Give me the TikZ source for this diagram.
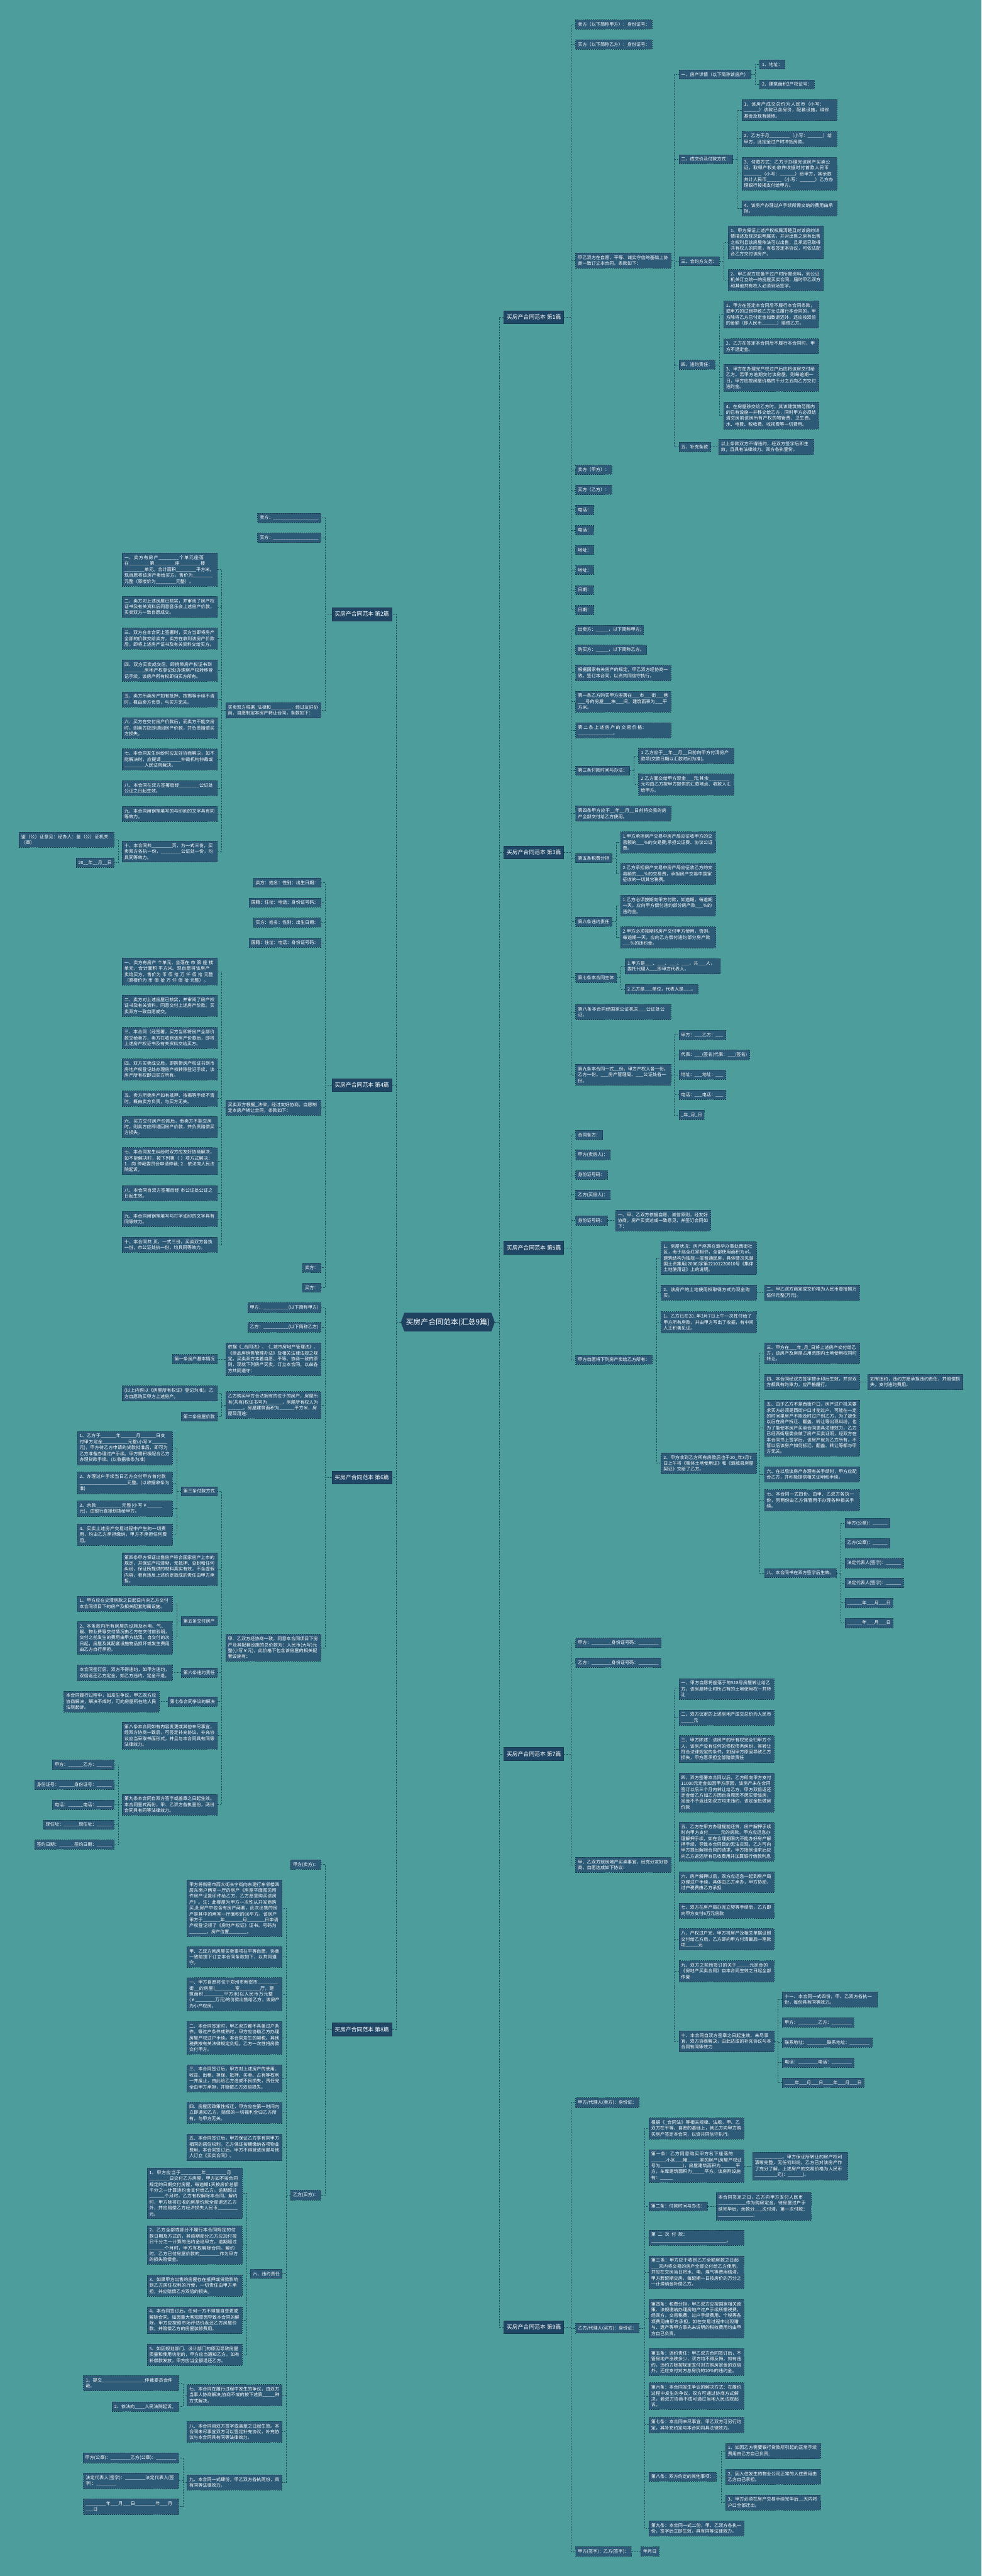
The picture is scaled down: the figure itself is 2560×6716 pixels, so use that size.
\documentclass[tikz,border=0pt]{standalone}
\usepackage{fontspec}
\setmainfont{Noto Sans CJK SC}
\usetikzlibrary{calc,shapes.symbols}
\XeTeXlinebreaklocale "zh"
\XeTeXlinebreakskip=0pt plus 1pt
\definecolor{bgteal}{RGB}{76,157,155}
\definecolor{leafblue}{RGB}{45,90,119}
\definecolor{mainblue}{RGB}{31,70,100}
\definecolor{rootblue}{RGB}{30,66,96}
\definecolor{edgeblue}{RGB}{26,56,78}
\definecolor{linkblue}{RGB}{33,72,92}
\newcommand{\leaffont}{\fontsize{11.7}{15.4}\selectfont}
\newcommand{\branchfont}{\fontsize{14.5}{18}\selectfont}
\newcommand{\rootfont}{\fontsize{19.5}{24}\selectfont}
% parent -> stub -> trunk -> child, trunk sits 11 units before the children
\newcommand{\rkids}[2]{\foreach \kid in {#2}{\draw[link] (#1.east) -- ($(#1.east -| \kid.west)+(-11,0)$) |- (\kid.west);}}
\newcommand{\lkids}[2]{\foreach \kid in {#2}{\draw[link] (#1.west) -- ($(#1.west -| \kid.east)+(11,0)$) |- (\kid.east);}}
\tikzset{
  link/.style={draw=linkblue, line width=1.1pt, dash pattern=on 4pt off 3pt},
  leaf/.style={draw=edgeblue, line width=0.9pt, dash pattern=on 3pt off 2pt,
               fill=leafblue, text=white, font=\leaffont,
               inner xsep=6pt, inner ysep=6.5pt, align=left},
  wide/.style={leaf, text width=236pt},
  branch/.style={draw=edgeblue, line width=0.9pt, fill=mainblue, text=white,
                 font=\branchfont, inner xsep=7pt, minimum height=34pt},
  rootnode/.style={signal, signal to=west and east, signal pointer angle=140,
                   fill=rootblue, text=white, font=\rootfont,
                   inner xsep=4pt, minimum height=49pt},
  rt/.style={anchor=west},
  lt/.style={anchor=east},
}
\begin{document}
\catcode`\_=12
\begin{tikzpicture}[x=1pt,y=-1pt]
  \fill[bgteal] (0,0) rectangle (2560,6716);
  \path[use as bounding box] (0,0) rectangle (2560,6716);

  % centre and the nine articles
  \node[rootnode] (root) at (1168,3447) {买房产合同范本(汇总9篇)};
  \node[branch, rt] (a1) at (1314,827)  {买房产合同范本 第1篇};
  \node[branch, rt] (a3) at (1314,2222) {买房产合同范本 第3篇};
  \node[branch, rt] (a5) at (1314,3253) {买房产合同范本 第5篇};
  \node[branch, rt] (a7) at (1314,4573) {买房产合同范本 第7篇};
  \node[branch, rt] (a9) at (1314,6067) {买房产合同范本 第9篇};
  \node[branch, lt] (a2) at (1022,1601) {买房产合同范本 第2篇};
  \node[branch, lt] (a4) at (1022,2829) {买房产合同范本 第4篇};
  \node[branch, lt] (a6) at (1022,3852) {买房产合同范本 第6篇};
  \node[branch, lt] (a8) at (1022,5291) {买房产合同范本 第8篇};
  \rkids{root}{a1,a3,a5,a7,a9}
  \lkids{root}{a2,a4,a6,a8}

  % article 1
  \node[leaf, rt] (s1a) at (1501,64)  {卖方（以下简称甲方）：身份证号：};
  \node[leaf, rt] (s1b) at (1501,116) {买方（以下简称乙方）：身份证号：};
  \node[wide, rt] (s1c) at (1501,679) {甲乙双方在自愿、平等、诚实守信的基础上协商一致订立本合同，条款如下：};
  \node[leaf, rt] (s1d) at (1501,1225) {卖方（甲方）：};
  \node[leaf, rt] (s1e) at (1501,1277) {买方（乙方）：};
  \node[leaf, rt] (s1f) at (1501,1329) {电话：};
  \node[leaf, rt] (s1g) at (1501,1382) {电话：};
  \node[leaf, rt] (s1h) at (1501,1434) {地址：};
  \node[leaf, rt] (s1i) at (1501,1486) {地址：};
  \node[leaf, rt] (s1j) at (1501,1538) {日期：};
  \node[leaf, rt] (s1k) at (1501,1590) {日期：};
  \rkids{a1}{s1a,s1b,s1c,s1d,s1e,s1f,s1g,s1h,s1i,s1j,s1k}

  \node[leaf, rt] (t1) at (1770,194)  {一、房产详情（以下简称该房产）};
  \node[leaf, rt] (t2) at (1770,415)  {二、成交价及付款方式：};
  \node[leaf, rt] (t3) at (1770,681)  {三、合约方义务：};
  \node[leaf, rt] (t4) at (1770,951)  {四、违约责任：};
  \node[leaf, rt] (t5) at (1770,1165) {五、补充条款};
  \rkids{s1c}{t1,t2,t3,t4,t5}

  \node[leaf, rt] (t1a) at (1981,168) {1、地址：};
  \node[leaf, rt] (t1b) at (1981,220) {2、建筑面积2产权证号：};
  \rkids{t1}{t1a,t1b}
  \node[wide, rt] (t2a) at (1934,287) {1、该房产成交总价为人民币（小写：______）该款已含房价，配套设施，维修基金及现有装修。};
  \node[wide, rt] (t2b) at (1934,362) {2、乙方于月________（小写：______）给甲方，此定金过户时冲抵房款。};
  \node[wide, rt] (t2c) at (1934,453) {3、付款方式：乙方于办理完该房产买卖公证，取得产权处收件收据时付首款人民币_______（小写：______）给甲方，其余款共计人民币______（小写：______）乙方办理银行按揭支付给甲方。};
  \node[wide, rt] (t2d) at (1934,543) {4、该房产办理过户手续所需交纳的费用由承担。};
  \rkids{t2}{t2a,t2b,t2c,t2d}
  \node[wide, rt] (t3a) at (1899,632) {1、甲方保证上述产权权属清楚且对该房的详情描述及现况说明属实，并对出售之房有出售之权利且该房屋依法可以出售，且承诺已取得共有权人的同意，有权签定本协议，可依法配合乙方交付该房产。};
  \node[wide, rt] (t3b) at (1899,730) {2、甲乙双方应备齐过户时所需资料，到公证机关订立统一的房屋买卖合同，届时甲乙双方和其他共有权人必须到场签字。};
  \rkids{t3}{t3a,t3b}
  \node[wide, rt] (t4a) at (1887,820)  {1、甲方在签定本合同后不履行本合同条款，或甲方的过错导致乙方无法履行本合同的，甲方除将乙方已付定金如数退还外，还应按双倍的金额（即人民币______）赔偿乙方。};
  \node[wide, rt] (t4b) at (1887,903)  {2、乙方在签定本合同后不履行本合同时，甲方不退定金。};
  \node[wide, rt] (t4c) at (1887,985)  {3、甲方在办理完产权过户后应将该房交付给乙方。若甲方逾期交付该房屋，则每逾期一日，甲方应按房屋价格的千分之五向乙方交付违约金。};
  \node[wide, rt] (t4d) at (1887,1083) {4、在房屋移交给乙方时，其该建筑物范围内的已有设施一并移交给乙方，同时甲方必须结清交房前该房所有产权的物管费、卫生费、水、电费、税收费、收视费等一切费用。};
  \rkids{t4}{t4a,t4b,t4c,t4d}
  \node[wide, rt] (t5a) at (1874,1165) {以上条款双方不得违约，经双方签字后即生效，且具有法律效力。双方各执壹份。};
  \rkids{t5}{t5a}

  % article 3
  \node[leaf, rt] (s3a) at (1501,1642) {出卖方：_____，以下简称甲方;};
  \node[leaf, rt] (s3b) at (1501,1694) {购买方：_____，以下简称乙方。};
  \node[wide, rt] (s3c) at (1501,1754) {根据国家有关房产的规定，甲乙双方经协商一致，签订本合同，以资共同信守执行。};
  \node[wide, rt] (s3d) at (1501,1829) {第一条乙方购买甲方座落在___市___街___巷___号的房屋___栋___间，建筑面积为___平方米。};
  \node[wide, rt] (s3e) at (1501,1904) {第二条上述房产的交易价格：______________。};
  \node[leaf, rt] (s3f) at (1501,2009) {第三条付款时间与办法：};
  \node[wide, rt] (s3g) at (1501,2121) {第四条甲方应于__年__月__日前将交易的房产全部交付给乙方使用。};
  \node[leaf, rt] (s3h) at (1501,2237) {第五条税费分担};
  \node[leaf, rt] (s3i) at (1501,2403) {第六条违约责任};
  \node[leaf, rt] (s3j) at (1501,2549) {第七条本合同主体};
  \node[wide, rt] (s3k) at (1501,2638) {第八条本合同经国家公证机关___公证处公证。};
  \node[wide, rt] (s3l) at (1501,2802) {第九条本合同一式__份。甲方产权人各一份。乙方一份。___房产管理局、___公证处各一份。};
  \rkids{a3}{s3a,s3b,s3c,s3d,s3e,s3f,s3g,s3h,s3i,s3j,s3k,s3l}

  \node[wide, rt] (s3f1) at (1665,1971) {1.乙方应于__年__月__日前向甲方付清房产款项(交款日期以汇款时间为准)。};
  \node[wide, rt] (s3f2) at (1665,2045) {2.乙方面交给甲方现金___元;其余________元均由乙方按甲方提供的汇款地点、收款人汇给甲方。};
  \rkids{s3f}{s3f1,s3f2}
  \node[wide, rt] (s3h1) at (1618,2196) {1.甲方承担房产交易中房产局应征收甲方的交易额的___\%的交易费;承担公证费、协议公证费。};
  \node[wide, rt] (s3h2) at (1618,2278) {2.乙方承担房产交易中房产局应征收乙方的交易额的___\%的交易费，承担房产交易中国家征收的一切其它税费。};
  \rkids{s3h}{s3h1,s3h2}
  \node[wide, rt] (s3i1) at (1618,2361) {1.乙方必须按期向甲方付款，如逾期，每逾期一天，应向甲方偿付违约部分房产款___\%的违约金。};
  \node[wide, rt] (s3i2) at (1618,2444) {2.甲方必须按期将房产交付甲方使用，否则，每逾期一天，应向乙方偿付违约部分房产款___\%的违约金。};
  \rkids{s3i}{s3i1,s3i2}
  \node[wide, rt] (s3j1) at (1630,2519) {1.甲方是___、___、___、___，共___人，委托代理人___即甲方代表人。};
  \node[leaf, rt] (s3j2) at (1630,2579) {2.乙方是___单位，代表人是___。};
  \rkids{s3j}{s3j1,s3j2}
  \node[leaf, rt] (s3l1) at (1770,2698) {甲方：___乙方：___};
  \node[leaf, rt] (s3l2) at (1770,2750) {代表：___(签名)代表：___(签名)};
  \node[leaf, rt] (s3l3) at (1770,2802) {地址：___地址：___};
  \node[leaf, rt] (s3l4) at (1770,2854) {电话：___电话：___};
  \node[leaf, rt] (s3l5) at (1770,2907) {_年_月_日};
  \rkids{s3l}{s3l1,s3l2,s3l3,s3l4,s3l5}

  % article 5
  \node[leaf, rt] (s5a) at (1501,2959) {合同各方：};
  \node[leaf, rt] (s5b) at (1501,3011) {甲方(卖房人)：};
  \node[leaf, rt] (s5c) at (1501,3063) {身份证号码：};
  \node[leaf, rt] (s5d) at (1501,3115) {乙方(买房人)：};
  \node[leaf, rt] (s5e) at (1501,3182) {身份证号码：};
  \node[leaf, rt] (s5f) at (1501,3545) {甲方自愿将下列房产卖给乙方所有：};
  \rkids{a5}{s5a,s5b,s5c,s5d,s5e,s5f}
  \node[wide, rt] (s5e1) at (1605,3182) {一、甲、乙双方依据自愿、诚信原则，经友好协商，房产买卖达成一致意见，并签订合同如下：};
  \rkids{s5e}{s5e1}

  \node[wide, rt] (f1) at (1724,3280) {1、房屋状况：房产座落在潞华办事处西街社区，南于赵全红家相邻，全部使用面积为㎡，建筑结构为独院一层普通民房，具体情况见潞国土资集用(2006)字第22101220010号《集体土地使用证》上的说明。};
  \node[wide, rt] (f2) at (1724,3370) {2、该房产的土地使用权取得方式为现金购买。};
  \node[wide, rt] (f3) at (1724,3447) {1、乙方已在20_年3月7日上午一次性付给了甲方所有房款，并由甲方写出了收据，有中间人王积善见证。};
  \node[wide, rt] (f4) at (1724,3815) {2、甲方收到乙方所有房款后也于20_年3月7日上午将《集体土地使用证》和《潞城县房屋契证》交给了乙方。};
  \rkids{s5f}{f1,f2,f3,f4}
  \node[wide, rt] (f2a) at (1993,3370) {二、甲乙双方商定成交价格为人民币壹拾捌万伍仟元整(万元)。};
  \rkids{f2}{f2a}

  \node[wide, rt] (g1) at (1993,3528) {三、甲方在___年_月_日将上述房产交付给乙方，该房产及房屋占用范围内土地使用权同时转让。};
  \node[wide, rt] (g2) at (1993,3603) {四、本合同经双方签字摁手印后生效，并对双方都具有约束力，应严格履行。};
  \node[wide, rt] (g3) at (1993,3723) {五、由于乙方不是西街户口，房产过户机关要求买方必须是西街户口才能过户，可能在一定的时间里房产不能及时过户到乙方，为了避免以后在房产拆迁、翻盖、转让等出现纠纷，也为了能使本房产买卖合同更具法律效力，乙方已经西街居委会做了房产买卖证明，经双方在本合同书上签字后，该房产就为乙方所有，不管以后该房产如何拆迁、翻盖、转让等都与甲方无关。};
  \node[wide, rt] (g4) at (1993,3844) {六、在以后该房产办理有关手续时，甲方应配合乙方，并积极提供相关证明和手续。};
  \node[wide, rt] (g5) at (1993,3911) {七、本合同一式四份，由甲、乙双方各执一份，另两份由乙方保管用于办理各种相关手续。};
  \node[leaf, rt] (g6) at (1993,4101) {八、本合同书在双方签字后生效。};
  \rkids{f4}{g1,g2,g3,g4,g5,g6}
  \node[wide, rt] (g2a) at (2263,3603) {如有违约，违约方愿承担违约责任，并赔偿损失，支付违约费用。};
  \rkids{g2}{g2a}
  \node[leaf, rt] (g6a) at (2203,3971) {甲方(公章)：______};
  \node[leaf, rt] (g6b) at (2203,4023) {乙方(公章)：______};
  \node[leaf, rt] (g6c) at (2203,4075) {法定代表人(签字)：______};
  \node[leaf, rt] (g6d) at (2203,4127) {法定代表人(签字)：______};
  \node[leaf, rt] (g6e) at (2203,4179) {______年___月___日};
  \node[leaf, rt] (g6f) at (2203,4231) {______年___月___日};
  \rkids{g6}{g6a,g6b,g6c,g6d,g6e,g6f}

  % article 7
  \node[leaf, rt] (s7a) at (1501,4283) {甲方：________身份证号码：________};
  \node[leaf, rt] (s7b) at (1501,4335) {乙方：________身份证号码：________};
  \node[wide, rt] (s7c) at (1501,4862) {甲、乙双方就房地产买卖事宜，经充分友好协商，自愿达成如下协议：};
  \rkids{a7}{s7a,s7b,s7c}
  \node[wide, rt] (h1) at (1770,4403) {一、甲方自愿将座落于的518号房屋转让给乙方，该房屋转让时所占有的土地使用权一并转让};
  \node[wide, rt] (h2) at (1770,4478) {二、双方议定的上述房地产成交总价为人民币_____元};
  \node[wide, rt] (h3) at (1770,4560) {三、甲方陈述：该房产的所有权完全归甲方个人，该房产没有任何的债权债务纠纷，其转让符合法律规定的条件，如因甲方原因导致乙方损失，甲方愿承担全部赔偿责任};
  \node[wide, rt] (h4) at (1770,4673) {四、双方签署本合同以后，乙方即向甲方支付11000元定金如因甲方原因，该房产未在合同签订以后三个月内转让给乙方，甲方双倍返还定金给乙方如乙方因自身原因不愿买受该房，定金不予返还如双方均未违约，该定金抵做房价款};
  \node[wide, rt] (h5) at (1770,4801) {五、乙方在甲方办理提前还贷，房产解押手续时向甲方支付_____元的房款，甲方应迅急办理解押手续，如在合理期限内不能办好房产解押手续，导致本合同目的无法实现，乙方可向甲方提出解除合同的请求，甲方接到请求后应向乙方返还所有已收费用并加算银行借款利息};
  \node[wide, rt] (h6) at (1770,4907) {六、房产解押以后，双方应迅急一起到房产局办理过户手续，具体由乙方承办，甲方协助，过户税费由乙方承担};
  \node[wide, rt] (h7) at (1770,4981) {七、双方在房产局办完立契等手续后，乙方即向甲方支付6万元房款};
  \node[wide, rt] (h8) at (1770,5056) {八、产权过户完，甲方将房产及相关单据证照交付给乙方后，乙方即向甲方付清最后一笔款项_____元};
  \node[wide, rt] (h9) at (1770,5139) {九、双方之前所签订的关于_____元定金的《房地产买卖合同》自本合同生效之日起全部作废};
  \node[wide, rt] (h10) at (1770,5322) {十、本合同自双方签章之日起生效，未尽事宜，双方协商解决，由此达成的补充协议与本合同有同等效力};
  \rkids{s7c}{h1,h2,h3,h4,h5,h6,h7,h8,h9,h10}
  \node[wide, rt] (h10a) at (2040,5213) {十一、本合同一式四份，甲、乙双方各执一份，每份具有同等效力。};
  \node[leaf, rt] (h10b) at (2040,5273) {甲方：________乙方：________};
  \node[leaf, rt] (h10c) at (2040,5325) {联系地址：________联系地址：________};
  \node[leaf, rt] (h10d) at (2040,5377) {电话：________电话：________};
  \node[leaf, rt] (h10e) at (2040,5430) {____年___月___日____年___月___日};
  \rkids{h10}{h10a,h10b,h10c,h10d,h10e}

  % article 9
  \node[leaf, rt] (s9a) at (1501,5482) {甲方/代理人(卖方)：身份证：};
  \node[leaf, rt] (s9b) at (1501,6070) {乙方/代理人(买方)：身份证：};
  \node[leaf, rt] (s9c) at (1501,6652) {甲方(签字)：乙方(签字)：};
  \rkids{a9}{s9a,s9b,s9c}
  \node[leaf, rt] (s9c1) at (1671,6652) {年月日};
  \rkids{s9c}{s9c1}

  \node[wide, rt] (k1) at (1692,5549) {根据《_合同法》等相关规律、法规，甲、乙双方在平等、自愿的基础上，就乙方向甲方购买房产签定本合同，以资共同信守执行。};
  \node[wide, rt] (k2) at (1692,5647) {第一条：乙方同意购买甲方名下座落的______小区___幢_____室的房产(房屋产权证号为_________)，房屋建筑面积为______平方，车库建筑面积为_____平方。该房附设施有：_____};
  \node[leaf, rt] (k3) at (1692,5752) {第二条：付款时间与办法：};
  \node[wide, rt] (k4) at (1692,5834) {第二次付款：______________________________。};
  \node[wide, rt] (k5) at (1692,5924) {第三条：甲方应于收到乙方全额房款之日起___天内将交易的房产全部交付给乙方使用，并应在交房当日将水、电、煤气等费用结清。甲方若延期交房，每延期一日按房价的万分之一计滞纳金补偿乙方。};
  \node[wide, rt] (k6) at (1692,6045) {第四条：税费分担，甲乙双方应按国家相关政策、法规缴纳办理房地产过户手续所需税费。经双方，交易税费、过户手续费用、个税等各项费用由甲方承担，如在交易过程中出现赠与、遗产等甲方事先未说明的税收费用均由甲方自己负责。};
  \node[wide, rt] (k7) at (1692,6158) {第五条：违约责任：甲乙双方合同签订后，不管房地产涨跌多少，双方均不得反悔，如有违约，违约方除按规定支付对方购房定金的双倍外，还应支付对方总房价的20\%的违约金。};
  \node[wide, rt] (k8) at (1692,6247) {第六条：本合同发生争议的解决方式：在履约过程中发生的争议，双方可通过协商方式解决，若双方协商不成可通过当地人民法院起诉。};
  \node[wide, rt] (k9) at (1692,6322) {第七条：本合同未尽事宜，甲乙双方可另行约定，其补充约定与本合同同具法律效力。};
  \node[leaf, rt] (k10) at (1692,6457) {第八条：双方约定的其他事项：};
  \node[wide, rt] (k11) at (1692,6592) {第九条：本合同一式二份，甲、乙双方各执一份，签字后立即生效，具有同等法律效力。};
  \rkids{s9b}{k1,k2,k3,k4,k5,k6,k7,k8,k9,k10,k11}
  \node[wide, rt] (k2a) at (1962,5647) {___________。甲方保证所转让的房产权利清晰完整，无任何纠纷。乙方已对该房产作了充分了解。上述房产的交易价格为人民币_________元(：______)。};
  \rkids{k2}{k2a}
  \node[wide, rt] (k3a) at (1867,5752) {本合同签定之日，乙方向甲方支付人民币___________作为购房定金，待房屋过户手续完毕后，余款分___次付清，第一次付款：______________;};
  \rkids{k3}{k3a}
  \node[wide, rt] (k10a) at (1892,6390) {1、如因乙方需要银行贷款所引起的正常手续费用由乙方自己负责;};
  \node[wide, rt] (k10b) at (1892,6457) {2、因入住发生的物业公司正常的入住费用由乙方自己承担。};
  \node[wide, rt] (k10c) at (1892,6524) {3、甲方必须在房产交易手续完毕后__天内将户口全部迁出。};
  \rkids{k10}{k10a,k10b,k10c}

  % article 2
  \node[leaf, lt] (s2a) at (837,1350) {卖方：__________________};
  \node[leaf, lt] (s2b) at (837,1402) {买方：__________________};
  \node[wide, lt] (s2c) at (837,1852) {买卖双方根据_法律和________，经过友好协商，自愿制定本房产转让合同，条款如下：};
  \lkids{a2}{s2a,s2b,s2c}
  \node[wide, lt] (u1) at (567,1485) {一、卖方有房产________个单元座落在________第________座________楼________单元。合计面积________平方米。现自愿将该房产卖给买方。售价为________元整（原楼价为________元整）。};
  \node[wide, lt] (u2) at (567,1582) {二、卖方对上述房屋已核实，并审阅了房产权证书及有关资料后同意音乐会上述房产价款，买卖双方一致自愿成交。};
  \node[wide, lt] (u3) at (567,1665) {三、双方在本合同上签署时，买方当即将房产全部的价款交给卖方，卖方在收到该房产价款后，即将上述房产证书及有关资料交给买方。};
  \node[wide, lt] (u4) at (567,1748) {四、双方买卖成交后，即携带房产权证书到________房地产权登记处办理房产权转移登记手续，该房产所有权即归买方所有。};
  \node[wide, lt] (u5) at (567,1823) {五、卖方所卖房产如有抵押、按揭等手续不清时，概由卖方负责，与买方无关。};
  \node[wide, lt] (u6) at (567,1898) {六、买方在交付房产价款后，而卖方不能交房时，则卖方应即退回房产价款，并负责赔偿买方损失。};
  \node[wide, lt] (u7) at (567,1980) {七、本合同发生纠纷时应友好协商解决，如不能解决时，应提请________仲裁机构仲裁或________人民法院裁决。};
  \node[wide, lt] (u8) at (567,2055) {八、本合同在双方签署后经________公证处公证之日起生效。};
  \node[wide, lt] (u9) at (567,2122) {九、本合同用钢笔填写的与印刷的文字具有同等效力。};
  \node[wide, lt] (u10) at (567,2220) {十、本合同共________页，为一式三份，买卖双方各执一份，________公证处一份，均具同等效力。};
  \lkids{s2c}{u1,u2,u3,u4,u5,u6,u7,u8,u9,u10}
  \node[wide, lt] (u10a) at (298,2189) {鉴（公）证意见：经办人：鉴（公）证机关（章）};
  \node[leaf, lt] (u10b) at (298,2249) {20__年__月__日};
  \lkids{u10}{u10a,u10b}

  % article 4
  \node[leaf, lt] (s4a) at (837,2301) {卖方：姓名：性别：出生日期：};
  \node[leaf, lt] (s4b) at (837,2353) {国籍：住址：电话：身份证号码：};
  \node[leaf, lt] (s4c) at (837,2405) {买方：姓名：性别：出生日期：};
  \node[leaf, lt] (s4d) at (837,2458) {国籍：住址：电话：身份证号码：};
  \node[wide, lt] (s4e) at (837,2888) {买卖双方根据_法律，经过友好协商，自愿制定本房产转让合同，条款如下：};
  \node[leaf, lt] (s4f) at (837,3305) {卖方：};
  \node[leaf, lt] (s4g) at (837,3357) {买方：};
  \lkids{a4}{s4a,s4b,s4c,s4d,s4e,s4f,s4g}
  \node[wide, lt] (x1) at (567,2533) {一、卖方有房产 个单元，坐落在 市 第 座 楼 单元，合计面积 平方米。现自愿将该房产卖给买方。售价为 币 佰 拾 万 仟 佰 拾 元整（原楼价为 币 佰 拾 万 仟 佰 拾 元整）。};
  \node[wide, lt] (x2) at (567,2622) {二、卖方对上述房屋已核实，并审阅了房产权证书及有关资料，同意交付上述房产价款。买卖双方一致自愿成交。};
  \node[wide, lt] (x3) at (567,2706) {三、本合同（经签署，买方当即将房产全部价款交给卖方，卖方在收到该房产价款后，即将上述房产权证书及有关资料交给买方。};
  \node[wide, lt] (x4) at (567,2788) {四、双方买卖成交后，即携带房产权证书到市房地产权登记处办理房产权转移登记手续，该房产所有权即归买方所有。};
  \node[wide, lt] (x5) at (567,2864) {五、卖方所卖房产如有抵押、按揭等手续不清时，概由卖方负责，与买方无关。};
  \node[wide, lt] (x6) at (567,2938) {六、买方交付房产价款后，而卖方不能交房时，则卖方应即退回房产价款，并负责赔偿买方损失。};
  \node[wide, lt] (x7) at (567,3027) {七、本合同发生纠纷时双方应友好协商解决，如不能解决时，按下列第（ ）项方式解决：1．向 仲裁委员会申请仲裁; 2．依法向人民法院起诉。};
  \node[wide, lt] (x8) at (567,3111) {八、本合同自双方签署后经 市公证处公证之日起生效。};
  \node[wide, lt] (x9) at (567,3178) {九、本合同用钢笔填写与打字油印的文字具有同等效力。};
  \node[wide, lt] (x10) at (567,3245) {十、本合同共 页，一式三份，买卖双方各执一份，市公证处执一份，均具同等效力。};
  \lkids{s4e}{x1,x2,x3,x4,x5,x6,x7,x8,x9,x10}

  % article 6
  \node[leaf, lt] (s6a) at (837,3409) {甲方：__________(以下简称甲方)};
  \node[leaf, lt] (s6b) at (837,3460) {乙方：__________(以下简称乙方)};
  \node[wide, lt] (s6c) at (837,3543) {依据《_合同法》、《_城市房地产管理法》、《商品房销售管理办法》及相关法律法规之规定，买卖双方本着自愿、平等、协商一致的原则，现就下列房产买卖，订立本合同，以兹各方共同遵守：};
  \node[wide, lt] (s6d) at (837,3663) {乙方购买甲方合法拥有的位于的房产，房屋所有(共有)权证书号为______，房屋所有权人为______。房屋建筑面积为______平方米，房屋现用途：};
  \node[wide, lt] (s6e) at (837,4296) {甲、乙双方经协商一致，同意本合同项目下房产及其配套设施的总价款为：人民币(大写)元整(小写￥元)，此价格下包含该房屋的相关配套设施有：};
  \lkids{a6}{s6a,s6b,s6c,s6d,s6e}
  \node[leaf, lt] (s6c1) at (567,3543) {第一条房产基本情况};
  \lkids{s6c}{s6c1}
  \node[wide, lt] (s6d1) at (567,3633) {(以上内容以《房屋所有权证》登记为准)。乙方自愿购买甲方上述房产。};
  \node[leaf, lt] (s6d2) at (567,3693) {第二条房屋价款};
  \lkids{s6d}{s6d1,s6d2}

  \node[leaf, lt] (v1) at (567,3888) {第三条付款方式};
  \node[wide, lt] (v2) at (567,4091) {第四条甲方保证出售房产符合国家房产上市的规定，并保证产权清晰，无抵押、查封和任何纠纷，保证所提供的材料真实有效，不含虚假内容，若有违反上述约定造成的责任由甲方承担。};
  \node[leaf, lt] (v3) at (567,4226) {第五条交付房产};
  \node[leaf, lt] (v4) at (567,4361) {第六条违约责任};
  \node[leaf, lt] (v5) at (567,4436) {第七条合同争议的解决};
  \node[wide, lt] (v6) at (567,4525) {第八条本合同如有内容变更或其他未尽事宜，经双方协商一致后，可签定补充协议，补充协议应当采取书面形式，并且与本合同具有同等法律效力。};
  \node[wide, lt] (v7) at (567,4705) {第九条本合同自双方签字或盖章之日起生效。本合同壹式两份，甲、乙双方各执壹份，两份合同具有同等法律效力。};
  \lkids{s6e}{v1,v2,v3,v4,v5,v6,v7}
  \node[wide, lt] (v1a) at (450,3775) {1、乙方于______年______月______日支付甲方定金__________元整(小写￥______元)，甲方待乙方申请的贷款批准后，即可为乙方准备办理过户手续。甲方需积极配合乙方办理贷款手续。(以收据收条为准)};
  \node[wide, lt] (v1b) at (450,3866) {2、办理过户手续当日乙方交付甲方首付款___________________元整。(以收据收条为准)};
  \node[wide, lt] (v1c) at (450,3933) {3、余款__________元整(小写￥______元)，由银行直接划拨给甲方。};
  \node[wide, lt] (v1d) at (450,4001) {4、买卖上述房产交易过程中产生的一切费用，均由乙方承担缴纳，甲方不承担任何费用。};
  \lkids{v1}{v1a,v1b,v1c,v1d}
  \node[wide, lt] (v3a) at (450,4181) {1、甲方应在交清房款之日起日内向乙方交付本合同项目下的房产及相关配套附属设施。};
  \node[wide, lt] (v3b) at (450,4270) {2、本条款内所有房屋的设施及水电、气、暖、物业费等交付情况由乙方在交付前验明，交付之前发生的费用由甲方结清。自交付的次日起，房屋及其配套设施物品损坏或发生费用由乙方自行承担。};
  \lkids{v3}{v3a,v3b}
  \node[wide, lt] (v4a) at (450,4361) {本合同签订后，双方不得违约，如甲方违约，双倍返还乙方定金，如乙方违约，定金不退。};
  \lkids{v4}{v4a}
  \node[wide, lt] (v5a) at (415,4436) {本合同履行过程中，如发生争议，甲乙双方应协商解决，解决不成时，可向房屋所在地人民法院起诉。};
  \lkids{v5}{v5a}
  \node[leaf, lt] (v7a) at (298,4601) {甲方：______乙方：______};
  \node[leaf, lt] (v7b) at (298,4653) {身份证号：______身份证号：______};
  \node[leaf, lt] (v7c) at (298,4705) {电话：______电话：______};
  \node[leaf, lt] (v7d) at (298,4757) {现住址：______现住址：______};
  \node[leaf, lt] (v7e) at (298,4809) {签约日期：______签约日期：______};
  \lkids{v7}{v7a,v7b,v7c,v7d,v7e}

  % article 8
  \node[leaf, lt] (s8a) at (837,4861) {甲方(卖方)：};
  \node[leaf, lt] (s8b) at (837,5723) {乙方(买方)：};
  \lkids{a8}{s8a,s8b}
  \node[wide, lt] (w1) at (736,4975) {甲方将新密市西大街长宁街向东建行东邻楼四层东南户两室一厅的房产《房屋平面图见附件房产证复印件给乙方，乙方愿意购买该房产》。注：此楼屋为甲方一次性从开发商购买,此房产中包含有房产两套，此次出售的房产是其中的两室一厅面积的80平方。该房产甲方于_______年_______月_______日申请产权登记领了《房地产权证》证书。号码为_______，房产位置_______。};
  \node[wide, lt] (w2) at (736,5102) {甲、乙双方就房屋买卖事项在平等自愿，协商一致前提下订立本合同条款如下，以共同遵守。};
  \node[wide, lt] (w3) at (736,5199) {一、甲方自愿将位于郑州市新密市________街__的房屋(________室________厅，建筑面积________平方米)以人民币万元整(￥________万元)的价款出售给乙方，该房产为小产权房。};
  \node[wide, lt] (w4) at (736,5313) {二、本合同签定时，甲乙双方都不具备过户条件。等过户条件成熟时，甲方应协助乙方办理房屋产权过户手续。本合同发生的契税。其他税费按有关法律规定负担。乙方一次性将房款交付甲方。};
  \node[wide, lt] (w5) at (736,5418) {三、本合同签订后，甲方对上述房产的使用、收益、出租、担保、抵押、买卖、占有等权利一并废止，由此给乙方造成不良损失，责任完全由甲方承担，并赔偿乙方双倍损失。};
  \node[wide, lt] (w6) at (736,5508) {四、房屋因政策性拆迁，甲方应在第一时间内立即通知乙方，赔偿的一切福利全归乙方所有，与甲方无关。};
  \node[wide, lt] (w7) at (736,5598) {五、本合同签订后，甲方保证乙方享有同甲方相同的居住权利。乙方保证按期缴纳各项物业费用。本合同签订后，甲方不得就该房屋与他人订立《买卖合同》。};
  \node[leaf, lt] (w8) at (736,5928) {六、违约责任};
  \node[wide, lt] (w9) at (736,6244) {七、本合同在履行过程中发生的争议，由双方当事人协商解决;协商不成的按下述第_____种方式解决。};
  \node[wide, lt] (w10) at (736,6340) {八、本合同自双方签字或盖章之日起生效。本合同未尽事宜双方可以签定补充协议，补充协议与本合同具有同等法律效力。};
  \node[wide, lt] (w11) at (736,6472) {九、本合同一式肆份，甲乙双方各执两份，具有同等法律效力。};
  \lkids{s8b}{w1,w2,w3,w4,w5,w6,w7,w8,w9,w10,w11}
  \node[wide, lt] (w8a) at (632,5718) {1、甲方应当于________年________月________日交付乙方房屋，甲方如不按合同规定的日期交付房屋，每逾期1天按房价总额千分之一计算违约金支付给乙方。逾期超过______个月时，乙方有权解除本合同。解约时，甲方除将已收的房屋价款全部退还乙方外，并应赔偿乙方经济损失人民币________元。};
  \node[wide, lt] (w8b) at (632,5853) {2、乙方全部或部分不履行本合同规定的付款日期及方式的，其逾期部分乙方应加付按日千分之一计算的违约金给甲方。逾期超过______个月时，甲方有权解除合同。解约时，乙方已付房屋价款的________作为甲方的损失赔偿金。};
  \node[wide, lt] (w8c) at (632,5959) {3、如果甲方出售的房屋存在抵押或贷款影响到乙方居住权利的行使，一切责任由甲方承担，并应赔偿乙方双倍的损失。};
  \node[wide, lt] (w8d) at (632,6049) {4、本合同签订后，任何一方不得擅自变更或解除合同。如因重大客观原因导致本合同的解除，甲方应按照市场评估价返还乙方房屋价款，并赔偿乙方的房屋装修费用。};
  \node[wide, lt] (w8e) at (632,6139) {5、如因规划部门、设计部门的原因导致房屋质量和使用功能的，甲方应当通知乙方，如有补偿款发放，甲方应当全额退还乙方。};
  \lkids{w8}{w8a,w8b,w8c,w8d,w8e}
  \node[wide, lt] (w9a) at (466,6213) {1、提交_________________仲裁委员会仲裁。};
  \node[leaf, lt] (w9b) at (466,6274) {2、依法向____人民法院起诉。};
  \lkids{w9}{w9a,w9b}
  \node[leaf, lt] (w11a) at (466,6408) {甲方(公章)：________乙方(公章)：________};
  \node[wide, lt] (w11b) at (466,6468) {法定代表人(签字)：________法定代表人(签字)：________};
  \node[wide, lt] (w11c) at (466,6535) {________年___月___日________年___月___日};
  \lkids{w11}{w11a,w11b,w11c}
\end{tikzpicture}
\end{document}
